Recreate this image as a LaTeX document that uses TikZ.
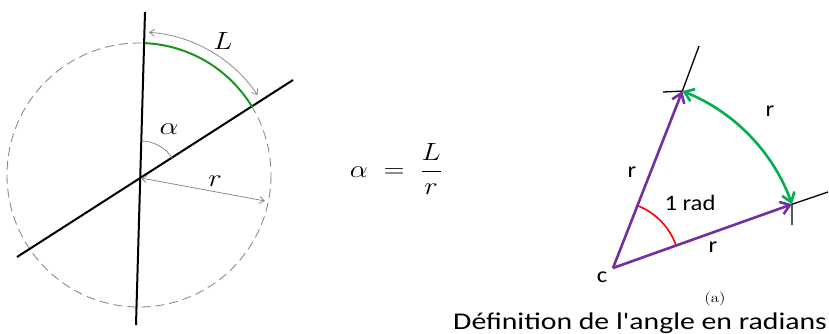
\documentclass[tikz,border=0pt]{standalone}
\usepackage{graphicx}
\usepackage{fontspec}
\newfontfamily\calfont{Carlito}
\usetikzlibrary{arrows.meta,calc}
\definecolor{opurple}{RGB}{112,48,160}
\definecolor{ogreen}{RGB}{0,176,80}
\definecolor{lgreen}{RGB}{30,150,30}
\definecolor{lgray}{RGB}{140,140,140}
\newcommand{\wide}[2]{\scalebox{#1}[1]{#2}}
\begin{document}
\begin{tikzpicture}[x=1pt,y=-1pt,
  blackline/.style={line width=2pt,black},
  dashcirc/.style={lgray,line width=0.9pt,dash pattern=on 9pt off 5pt},
  grayarrow/.style={lgray,line width=0.8pt,{Straight Barb[length=5pt,width=7pt]}-{Straight Barb[length=5pt,width=7pt]}},
  grayline/.style={lgray,line width=0.8pt},
  mathlbl/.style={inner sep=0pt,font=\fontsize{26}{30}\selectfont},
  purpline/.style={opurple,line width=2.6pt,-{Straight Barb[length=9pt,width=13pt,line width=2.6pt]}},
  greenarc/.style={ogreen,line width=2.6pt,{Straight Barb[length=9pt,width=13pt,line width=2.6pt]}-{Straight Barb[length=9pt,width=13pt,line width=2.6pt]}},
  tickline/.style={black,line width=1.3pt},
  callbl/.style={inner sep=0pt,font=\calfont\fontsize{22}{26}\selectfont},
]
\useasboundingbox (0,0) rectangle (829,334);
% ---------- left diagram ----------
\coordinate (C0) at (139,175);
\coordinate (O) at (141,178);
\coordinate (V1) at (145,12);
\coordinate (V2) at (136,325);
\coordinate (D1) at (293,80);
\coordinate (D2) at (17,257);
\coordinate (Rend) at (265,201);
\draw[dashcirc] (C0) circle[radius=132];
\draw[blackline] (V1) -- (V2);
\draw[blackline] (D1) -- (D2);
\draw[lgreen,line width=2pt] ($(C0)+(-87.4:132)$) arc[start angle=-87.4,end angle=-31,radius=132];
\draw[grayarrow] ($(C0)+(-86:143)$) arc[start angle=-86,end angle=-33.9,radius=143];
\draw[grayline] ($(O)+(-88.6:37)$) arc[start angle=-88.6,end angle=-32.8,radius=37];
\draw[grayarrow] (O) -- (Rend);
\node[mathlbl] (Llbl) at (223,41) {\wide{1.15}{$L$}};
\node[mathlbl] (albl) at (169,129) {\wide{1.2}{$\alpha$}};
\node[mathlbl] (rlbl) at (215,181) {\wide{1.15}{$r$}};
% ---------- formula ----------
\node[inner sep=0pt,anchor=base,font=\fontsize{23}{27}\selectfont] (formula) at (396,177) {\wide{1.15}{$\alpha\;=\;{\displaystyle\frac{L}{r}}$}};
% ---------- right diagram ----------
\coordinate (c) at (613,268);
\coordinate (P1) at ($(c)+(-68.6:190)$);
\coordinate (P2) at ($(c)+(-19.6:190)$);
\coordinate (T1a) at (663,92);
\coordinate (T1b) at (699,46);
\coordinate (T2a) at (828,192);
\coordinate (T2b) at (792,225);
\draw[tickline] (T1a) -- (P1) -- (T1b);
\draw[tickline] (T2a) -- (P2) -- (T2b);
\draw[red,line width=1.6pt] ($(c)+(-68.6:67)$) arc[start angle=-68.6,end angle=-19.6,radius=67];
\draw[purpline] (c) -- (P1);
\draw[purpline] (c) -- (P2);
\draw[greenarc] (P1) arc[start angle=-68.6,end angle=-19.6,radius=190];
\node[callbl] (r1) at (632,172) {\wide{1.12}{r}};
\node[callbl] (rad) at (690,203) {\wide{1.12}{1 rad}};
\node[callbl] (r2) at (713,247) {\wide{1.12}{r}};
\node[callbl] (r3) at (770,111) {\wide{1.12}{r}};
\node[callbl] (clbl) at (602,277) {\wide{1.12}{c}};
\node[inner sep=0pt,font=\fontsize{14}{16}\selectfont] (alab) at (715,299) {\wide{1.2}{(a)}};
\node[inner sep=0pt,anchor=base west,font=\calfont\fontsize{24}{29}\selectfont] (title) at (453,329) {\wide{1.24}{Définition de l'angle en radians}};
\end{tikzpicture}
\end{document}
